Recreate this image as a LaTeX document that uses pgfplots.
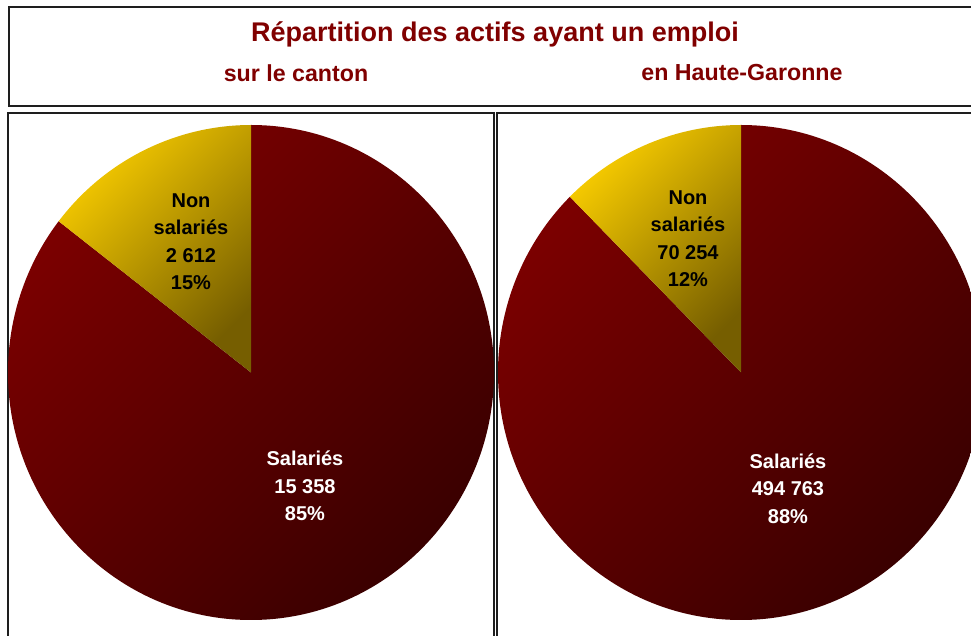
\documentclass[border=0pt]{standalone}
\usepackage{pgfplots}
\pgfplotsset{compat=1.18}
\usepackage{pgfplotstable}
\usepackage{fontspec}
\setmainfont{Liberation Sans}

\pgfplotstableread{
zone sal nonsal
canton 15358 2612
hg 494763 70254
}\datatable

\definecolor{titlered}{RGB}{128,0,0}
\definecolor{redlight}{RGB}{124,0,0}
\definecolor{reddark}{RGB}{58,0,0}
\definecolor{yellowlight}{RGB}{248,204,0}
\definecolor{yellowdark}{RGB}{118,94,0}
\definecolor{framec}{RGB}{30,30,30}

\begin{document}
\begin{tikzpicture}
\pgfplotstablegetelem{0}{sal}\of\datatable \edef\salA{\pgfplotsretval}
\pgfplotstablegetelem{0}{nonsal}\of\datatable \edef\nonA{\pgfplotsretval}
\pgfplotstablegetelem{1}{sal}\of\datatable \edef\salB{\pgfplotsretval}
\pgfplotstablegetelem{1}{nonsal}\of\datatable \edef\nonB{\pgfplotsretval}
\edef\angA{\fpeval{360*\nonA/(\nonA+\salA)}}
\edef\angB{\fpeval{360*\nonB/(\nonB+\salB)}}
\edef\endA{\fpeval{90+\angA}}
\edef\endB{\fpeval{90+\angB}}
\edef\endSA{\fpeval{\angA-270}}
\edef\endSB{\fpeval{\angB-270}}
\begin{axis}[
  scale only axis, width=485.5pt, height=318pt,
  xmin=0, xmax=971, ymin=0, ymax=636, y dir=reverse,
  hide axis, clip=true]
  % frames
  \draw[line width=1pt, framec] (axis cs:9,7) rectangle (axis cs:1000,106);
  \draw[line width=1pt, framec] (axis cs:8,113) rectangle (axis cs:494,700);
  \draw[line width=1pt, framec] (axis cs:497,113) rectangle (axis cs:1000,700);
  % left pie (canton)
  \shade[top color=redlight, bottom color=reddark, shading angle=45]
    (axis cs:251,372.5) -- (axis cs:251,125) arc[start angle=90, end angle=\endSA, x radius=121.5pt, y radius=123.75pt] -- cycle;
  \shade[top color=yellowlight, bottom color=yellowdark, shading angle=45]
    (axis cs:251,372.5) -- (axis cs:251,125) arc[start angle=90, end angle=\endA, x radius=121.5pt, y radius=123.75pt] -- cycle;
  % right pie (Haute-Garonne)
  \shade[top color=redlight, bottom color=reddark, shading angle=45]
    (axis cs:741,372.5) -- (axis cs:741,125) arc[start angle=90, end angle=\endSB, x radius=121.5pt, y radius=123.75pt] -- cycle;
  \shade[top color=yellowlight, bottom color=yellowdark, shading angle=45]
    (axis cs:741,372.5) -- (axis cs:741,125) arc[start angle=90, end angle=\endB, x radius=121.5pt, y radius=123.75pt] -- cycle;
  % titles
  \node[font=\bfseries\fontsize{13.5}{16}\selectfont, text=titlered] at (axis cs:495,34) {Répartition des actifs ayant un emploi};
  \node[font=\bfseries\fontsize{11.6}{14}\selectfont, text=titlered] at (axis cs:296,73) {sur le canton};
  \node[font=\bfseries\fontsize{11.6}{14}\selectfont, text=titlered] at (axis cs:742,73) {en Haute-Garonne};
  % labels
  \node[font=\bfseries\fontsize{10}{13.75}\selectfont, align=center, text=black] at (axis cs:191,241.5) {Non\\salariés\\2 612\\15\%};
  \node[font=\bfseries\fontsize{10}{13.75}\selectfont, align=center, text=black] at (axis cs:688,238.5) {Non\\salariés\\70 254\\12\%};
  \node[font=\bfseries\fontsize{10}{13.75}\selectfont, align=center, text=white] at (axis cs:305,486) {Salariés\\15 358\\85\%};
  \node[font=\bfseries\fontsize{10}{13.75}\selectfont, align=center, text=white] at (axis cs:788,488.5) {Salariés\\494 763\\88\%};
\end{axis}
\pgfresetboundingbox
\path (current axis.south west) rectangle (current axis.north east);
\end{tikzpicture}
\end{document}
